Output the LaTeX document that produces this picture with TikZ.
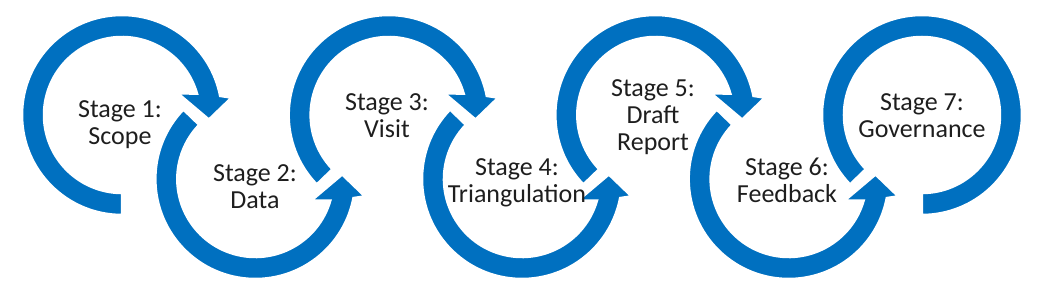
\documentclass[tikz,border=0pt]{standalone}
\usepackage{fontspec}
\setmainfont{Carlito}
\definecolor{stageblue}{HTML}{0070C0}
\definecolor{stagetext}{HTML}{1E1E1E}

\begin{document}
\begin{tikzpicture}[x=1pt, y=1pt,
  ring/.style={fill=stageblue, draw=white, line width=2.5pt, line join=miter},
  stagelabel/.style={align=center, anchor=base, inner sep=0pt,
    text=stagetext, font=\fontsize{26}{27}\selectfont}]
  \useasboundingbox (0,0) rectangle (1039,298);

  % Ring centres
  \foreach \i in {1,3,5,7}
    \coordinate (c\i) at ({122+133.33*(\i-1)},183);
  \foreach \i in {2,4,6}
    \coordinate (c\i) at ({122+133.33*(\i-1)},119);

  % Upper rings, turning clockwise
  \foreach \i/\a in {1/270, 3/224, 5/224}
    \path[ring, shift={(c\i)}]
      (\a:100) arc[start angle=\a, end angle=11, radius=100]
      -- (9:111) -- (-3:87) -- (21:60) -- (16:78)
      arc[start angle=16, end angle=\a, radius=78] -- cycle;

  % Lower rings, turning anticlockwise
  \foreach \i in {2,4,6}
    \path[ring, shift={(c\i)}, yscale=-1]
      (224:100) arc[start angle=224, end angle=11, radius=100]
      -- (9:111) -- (-3:87) -- (21:60) -- (16:78)
      arc[start angle=16, end angle=224, radius=78] -- cycle;

  % Last ring, no head
  \path[ring, shift={(c7)}]
    (224:100) arc[start angle=224, end angle=-90, radius=100]
    -- (-90:78) arc[start angle=-90, end angle=224, radius=78] -- cycle;

  % Stage labels
  \node[stagelabel] (s1) at (120,154) {Stage 1:\\Scope};
  \node[stagelabel] (s2) at (255,90) {Stage 2:\\Data};
  \node[stagelabel] (s3) at (387,161) {Stage 3:\\Visit};
  \node[stagelabel] (s4) at (517,96) {Stage 4:\\Triangulation};
  \node[stagelabel] (s5) at (653,148) {Stage 5:\\Draft\\Report};
  \node[stagelabel] (s6) at (787,96) {Stage 6:\\Feedback};
  \node[stagelabel] (s7) at (922,161) {Stage 7:\\Governance};
\end{tikzpicture}
\end{document}
